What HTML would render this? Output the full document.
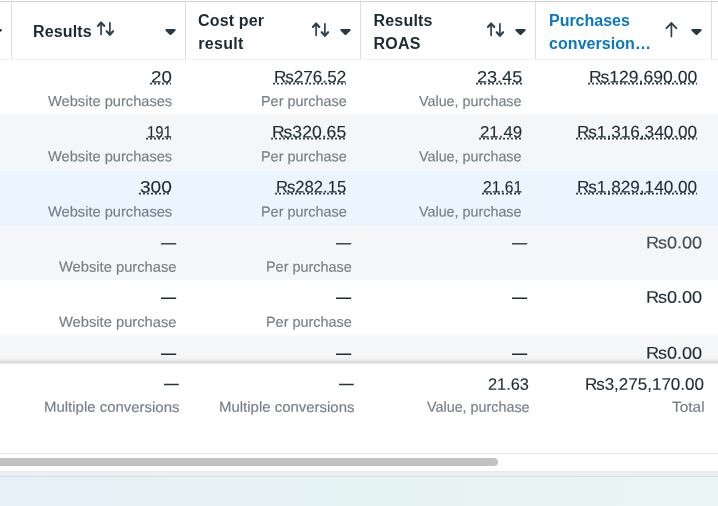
<!DOCTYPE html>
<html lang="en"><head><meta charset="utf-8"><title>Ads reporting table – results columns</title>
<style>
html,body{margin:0;padding:0}
body{width:718px;height:506px;overflow:hidden;background:#fff;position:relative;font-family:"Liberation Sans",sans-serif;color:#1c2b33}
.tbl,.hd,.tr,.tf,.th,.td,.b,.h,.s,.v,.ic,.sb,.pg{position:absolute}
.tbl{left:0;top:0;width:718px;height:471px}
.hd,.tr,.tf,.sb,.pg{left:0;width:718px}
.th,.td{top:0;height:100%}
.h,.s,.v{white-space:nowrap}
.h{font-size:16px;line-height:20px;font-weight:bold}
.lk{color:#0a78be}
.v{line-height:21px;transform-origin:0 0;-webkit-text-stroke:0.12px currentColor;text-rendering:geometricPrecision}
.s{font-size:14.4px;color:#757f86;-webkit-text-stroke:0.15px currentColor}
.d{font-size:16px;font-weight:bold;-webkit-text-stroke:0}
.cur::first-letter{letter-spacing:-1.1px}
.ic{overflow:visible;pointer-events:none}
</style></head><body>
<div class="tbl" role="table" aria-label="Campaign results">
<div class="hd" role="row" style="top:0;height:59px;background:#fff">
<div class="b" style="left:0px;top:1px;width:718px;height:1px;background:#d2d3d5;"></div>
<div class="th" role="columnheader" style="left:0;width:11px"><svg class="ic" style="left:0px;top:0px" width="718" height="506" viewBox="0 0 718 506" aria-hidden="true"><path d="M-7.4 30H0.8L-3.3 33.9Z" fill="#283943" stroke="#283943" stroke-width="2.2" stroke-linejoin="round"/></svg></div>
<div class="th" role="columnheader" style="left:11px;width:174px">
<div class="b" style="left:0px;top:2px;width:1px;height:57px;background:#dcdee1;"></div>
<div class="h" style="left:22.07px;top:21.7px;letter-spacing:0.143px">Results</div>
<svg class="ic" style="left:-11px;top:0px" width="718" height="506" viewBox="0 0 718 506" aria-hidden="true"><g fill="none" stroke="#2f404b" stroke-linecap="round" stroke-linejoin="round"><path d="M101.1 22.5V34.3" stroke-width="1.7"/><path d="M97.9 26L101.1 22.5L104.3 26" stroke-width="2.1"/><path d="M109.9 22.9V34.7" stroke-width="1.7"/><path d="M106.7 31.2L109.9 34.7L113.1 31.2" stroke-width="2.1"/></g><path d="M166.4 30H174.6L170.5 33.9Z" fill="#283943" stroke="#283943" stroke-width="2.2" stroke-linejoin="round"/></svg>
</div>
<div class="th" role="columnheader" style="left:185px;width:175px">
<div class="b" style="left:0px;top:2px;width:1px;height:57px;background:#dcdee1;"></div>
<div class="h" style="left:13.07px;top:11.3px;letter-spacing:0.137px">Cost per</div>
<div class="h" style="left:13.16px;top:34px;letter-spacing:0.320px">result</div>
<svg class="ic" style="left:-185px;top:0px" width="718" height="506" viewBox="0 0 718 506" aria-hidden="true"><g fill="none" stroke="#2f404b" stroke-linecap="round" stroke-linejoin="round"><path d="M316.1 23.5V35.3" stroke-width="1.7"/><path d="M312.9 27L316.1 23.5L319.3 27" stroke-width="2.1"/><path d="M324.9 23.9V35.7" stroke-width="1.7"/><path d="M321.7 32.2L324.9 35.7L328.1 32.2" stroke-width="2.1"/></g><path d="M341.4 30H349.6L345.5 33.9Z" fill="#283943" stroke="#283943" stroke-width="2.2" stroke-linejoin="round"/></svg>
</div>
<div class="th" role="columnheader" style="left:360px;width:175px">
<div class="b" style="left:0px;top:2px;width:1px;height:57px;background:#dcdee1;"></div>
<div class="h" style="left:13.41px;top:11.3px;letter-spacing:0.215px">Results</div>
<div class="h" style="left:13.43px;top:34px;letter-spacing:0.266px">ROAS</div>
<svg class="ic" style="left:-360px;top:0px" width="718" height="506" viewBox="0 0 718 506" aria-hidden="true"><g fill="none" stroke="#2f404b" stroke-linecap="round" stroke-linejoin="round"><path d="M491.1 23.5V35.3" stroke-width="1.7"/><path d="M487.9 27L491.1 23.5L494.3 27" stroke-width="2.1"/><path d="M499.9 23.9V35.7" stroke-width="1.7"/><path d="M496.7 32.2L499.9 35.7L503.1 32.2" stroke-width="2.1"/></g><path d="M516.4 30H524.6L520.5 33.9Z" fill="#283943" stroke="#283943" stroke-width="2.2" stroke-linejoin="round"/></svg>
</div>
<div class="th" role="columnheader" style="left:535px;width:176px">
<div class="b" style="left:0px;top:2px;width:1px;height:57px;background:#dcdee1;"></div>
<div class="h lk" style="left:13.99px;top:11.3px;letter-spacing:-0.015px">Purchases</div>
<div class="h lk" style="left:14.03px;top:34px;letter-spacing:0.058px">conversion…</div>
<svg class="ic" style="left:-535px;top:0px" width="718" height="506" viewBox="0 0 718 506" aria-hidden="true"><g fill="none" stroke="#2f404b" stroke-linecap="round" stroke-linejoin="round"><path d="M671.4 23.1V36.5" stroke-width="1.7"/><path d="M666.5 28.2L671.4 23.1L676.3 28.2" stroke-width="1.9"/></g><path d="M692.4 30H700.6L696.5 33.9Z" fill="#283943" stroke="#283943" stroke-width="2.2" stroke-linejoin="round"/></svg>
</div>
<div class="th" role="columnheader" style="left:711px;width:7px"><div class="b" style="left:0px;top:2px;width:1px;height:57px;background:#dcdee1;"></div></div>
</div>
<div class="tr" role="row" style="top:59px;height:55px;background:#ffffff">
<div class="b" style="left:0px;top:0px;width:718px;height:1px;background:#f3f3f4;"></div>
<div class="b" style="left:185px;top:1px;width:2px;height:54px;background:rgba(255,255,255,0.08);"></div>
<div class="b" style="left:360px;top:1px;width:2px;height:54px;background:rgba(255,255,255,0.08);"></div>
<div class="b" style="left:535px;top:1px;width:2px;height:54px;background:rgba(255,255,255,0.08);"></div>
<div class="td" role="cell" style="left:11px;width:174px">
<div class="v" style="left:139.8px;top:8px;font-size:16.5px;transform:translateY(0.40px) rotate(0.05deg) scaleX(1.1329)">20</div>
<svg class="ic" style="left:-11px;top:-59px" width="718" height="506" viewBox="0 0 718 506" aria-hidden="true"><path d="M150 83.55H171" fill="none" stroke="rgba(28,43,51,0.9)" stroke-width="1.8" stroke-dasharray="2 2"/></svg>
<div class="v s" style="left:36.5px;top:33px;transform:translateY(0.00px) rotate(0.05deg) scaleX(1.0170)">Website purchases</div>
</div>
<div class="td" role="cell" style="left:185px;width:175px">
<div class="v cur" style="left:88.8px;top:7px;font-size:16.7px;transform:translateY(0.40px) rotate(0.05deg) scaleX(1.0265)">Rs276.52</div>
<svg class="ic" style="left:-185px;top:-59px" width="718" height="506" viewBox="0 0 718 506" aria-hidden="true"><path d="M273 83.55H346" fill="none" stroke="rgba(28,43,51,0.9)" stroke-width="1.8" stroke-dasharray="2 2"/></svg>
<div class="v s" style="left:76px;top:33px;transform:translateY(0.00px) rotate(0.05deg) scaleX(1.0024)">Per purchase</div>
</div>
<div class="td" role="cell" style="left:360px;width:175px">
<div class="v" style="left:116.8px;top:8px;font-size:16.5px;transform:translateY(0.40px) rotate(0.05deg) scaleX(1.0945)">23.45</div>
<svg class="ic" style="left:-360px;top:-59px" width="718" height="506" viewBox="0 0 718 506" aria-hidden="true"><path d="M476 83.55H522" fill="none" stroke="rgba(28,43,51,0.9)" stroke-width="1.8" stroke-dasharray="2 2"/></svg>
<div class="v s" style="left:59.3px;top:33px;transform:translateY(0.00px) rotate(0.05deg) scaleX(0.9957)">Value, purchase</div>
</div>
<div class="td" role="cell" style="left:535px;width:176px">
<div class="v cur" style="left:53.8px;top:7px;font-size:16.7px;transform:translateY(0.40px) rotate(0.05deg) scaleX(1.0523)">Rs129,690.00</div>
<svg class="ic" style="left:-535px;top:-59px" width="718" height="506" viewBox="0 0 718 506" aria-hidden="true"><path d="M588 83.55H697" fill="none" stroke="rgba(28,43,51,0.9)" stroke-width="1.8" stroke-dasharray="2 2"/></svg>
</div>
</div>
<div class="tr" role="row" style="top:114px;height:55px;background:#f5f6f7">
<div class="b" style="left:0px;top:0px;width:718px;height:1px;background:#fafafa;"></div>
<div class="b" style="left:185px;top:0px;width:2px;height:55px;background:rgba(255,255,255,0.08);"></div>
<div class="b" style="left:360px;top:0px;width:2px;height:55px;background:rgba(255,255,255,0.08);"></div>
<div class="b" style="left:535px;top:0px;width:2px;height:55px;background:rgba(255,255,255,0.08);"></div>
<div class="td" role="cell" style="left:11px;width:174px">
<div class="v" style="left:135.8px;top:8px;font-size:16.5px;transform:translateY(0.40px) rotate(0.05deg) scaleX(0.9008)">191</div>
<svg class="ic" style="left:-11px;top:-114px" width="718" height="506" viewBox="0 0 718 506" aria-hidden="true"><path d="M146 138.55H171" fill="none" stroke="rgba(28,43,51,0.9)" stroke-width="1.8" stroke-dasharray="2 2"/></svg>
<div class="v s" style="left:36.5px;top:33px;transform:translateY(0.20px) rotate(0.05deg) scaleX(1.0170)">Website purchases</div>
</div>
<div class="td" role="cell" style="left:185px;width:175px">
<div class="v cur" style="left:86.8px;top:7px;font-size:16.7px;transform:translateY(0.40px) rotate(0.05deg) scaleX(1.0549)">Rs320.65</div>
<svg class="ic" style="left:-185px;top:-114px" width="718" height="506" viewBox="0 0 718 506" aria-hidden="true"><path d="M271 138.55H346" fill="none" stroke="rgba(28,43,51,0.9)" stroke-width="1.8" stroke-dasharray="2 2"/></svg>
<div class="v s" style="left:76px;top:33px;transform:translateY(0.20px) rotate(0.05deg) scaleX(1.0024)">Per purchase</div>
</div>
<div class="td" role="cell" style="left:360px;width:175px">
<div class="v" style="left:119.8px;top:8px;font-size:16.5px;transform:translateY(0.40px) rotate(0.05deg) scaleX(1.0219)">21.49</div>
<svg class="ic" style="left:-360px;top:-114px" width="718" height="506" viewBox="0 0 718 506" aria-hidden="true"><path d="M479 138.55H522" fill="none" stroke="rgba(28,43,51,0.9)" stroke-width="1.8" stroke-dasharray="2 2"/></svg>
<div class="v s" style="left:59.3px;top:33px;transform:translateY(0.20px) rotate(0.05deg) scaleX(0.9957)">Value, purchase</div>
</div>
<div class="td" role="cell" style="left:535px;width:176px">
<div class="v cur" style="left:41.8px;top:7px;font-size:16.7px;transform:translateY(0.40px) rotate(0.05deg) scaleX(1.0296)">Rs1,316,340.00</div>
<svg class="ic" style="left:-535px;top:-114px" width="718" height="506" viewBox="0 0 718 506" aria-hidden="true"><path d="M576 138.55H697" fill="none" stroke="rgba(28,43,51,0.9)" stroke-width="1.8" stroke-dasharray="2 2"/></svg>
</div>
</div>
<div class="tr sel" role="row" style="top:169px;height:56px;background:#ecf5ff">
<div class="b" style="left:0px;top:0px;width:718px;height:1px;background:#f8f9fa;"></div>
<div class="b" style="left:0px;top:1px;width:718px;height:1px;background:#eef6fe;"></div>
<div class="b" style="left:185px;top:0px;width:2px;height:56px;background:rgba(255,255,255,0.08);"></div>
<div class="b" style="left:360px;top:0px;width:2px;height:56px;background:rgba(255,255,255,0.08);"></div>
<div class="b" style="left:535px;top:0px;width:2px;height:56px;background:rgba(255,255,255,0.08);"></div>
<div class="td" role="cell" style="left:11px;width:174px">
<div class="v" style="left:128.8px;top:8px;font-size:16.5px;transform:translateY(0.40px) rotate(0.05deg) scaleX(1.1551)">300</div>
<svg class="ic" style="left:-11px;top:-169px" width="718" height="506" viewBox="0 0 718 506" aria-hidden="true"><path d="M139 193.55H171" fill="none" stroke="rgba(28,43,51,0.9)" stroke-width="1.8" stroke-dasharray="2 2"/></svg>
<div class="v s" style="left:36.5px;top:33px;transform:translateY(0.40px) rotate(0.05deg) scaleX(1.0170)">Website purchases</div>
</div>
<div class="td" role="cell" style="left:185px;width:175px">
<div class="v cur" style="left:90.8px;top:7px;font-size:16.7px;transform:translateY(0.40px) rotate(0.05deg) scaleX(0.9980)">Rs282.15</div>
<svg class="ic" style="left:-185px;top:-169px" width="718" height="506" viewBox="0 0 718 506" aria-hidden="true"><path d="M275 193.55H346" fill="none" stroke="rgba(28,43,51,0.9)" stroke-width="1.8" stroke-dasharray="2 2"/></svg>
<div class="v s" style="left:76px;top:33px;transform:translateY(0.40px) rotate(0.05deg) scaleX(1.0024)">Per purchase</div>
</div>
<div class="td" role="cell" style="left:360px;width:175px">
<div class="v" style="left:122.8px;top:8px;font-size:16.5px;transform:translateY(0.40px) rotate(0.05deg) scaleX(0.9492)">21.61</div>
<svg class="ic" style="left:-360px;top:-169px" width="718" height="506" viewBox="0 0 718 506" aria-hidden="true"><path d="M482 193.55H522" fill="none" stroke="rgba(28,43,51,0.9)" stroke-width="1.8" stroke-dasharray="2 2"/></svg>
<div class="v s" style="left:59.3px;top:33px;transform:translateY(0.40px) rotate(0.05deg) scaleX(0.9957)">Value, purchase</div>
</div>
<div class="td" role="cell" style="left:535px;width:176px">
<div class="v cur" style="left:41.8px;top:7px;font-size:16.7px;transform:translateY(0.40px) rotate(0.05deg) scaleX(1.0296)">Rs1,829,140.00</div>
<svg class="ic" style="left:-535px;top:-169px" width="718" height="506" viewBox="0 0 718 506" aria-hidden="true"><path d="M576 193.55H697" fill="none" stroke="rgba(28,43,51,0.9)" stroke-width="1.8" stroke-dasharray="2 2"/></svg>
</div>
</div>
<div class="tr" role="row" style="top:225px;height:55px;background:#f5f6f7">
<div class="b" style="left:0px;top:0px;width:718px;height:1px;background:#f1f6fb;"></div>
<div class="b" style="left:185px;top:0px;width:2px;height:55px;background:rgba(255,255,255,0.08);"></div>
<div class="b" style="left:360px;top:0px;width:2px;height:55px;background:rgba(255,255,255,0.08);"></div>
<div class="b" style="left:535px;top:0px;width:2px;height:55px;background:rgba(255,255,255,0.08);"></div>
<div class="td" role="cell" style="left:11px;width:174px">
<div class="v d" style="left:150px;top:8px;color:#3c4a54;transform:translateY(0.02px) rotate(0.05deg) scaleX(0.9500)">—</div>
<div class="v s" style="left:48.2px;top:32px;transform:translateY(0.60px) rotate(0.05deg) scaleX(1.0224)">Website purchase</div>
</div>
<div class="td" role="cell" style="left:185px;width:175px">
<div class="v d" style="left:151.4px;top:8px;color:#3c4a54;transform:translateY(0.02px) rotate(0.05deg) scaleX(0.9500)">—</div>
<div class="v s" style="left:80.9px;top:32px;transform:translateY(0.60px) rotate(0.05deg) scaleX(1.0024)">Per purchase</div>
</div>
<div class="td" role="cell" style="left:360px;width:175px">
<div class="v d" style="left:151.6px;top:8px;color:#3c4a54;transform:translateY(0.02px) rotate(0.05deg) scaleX(0.9500)">—</div>
</div>
<div class="td" role="cell" style="left:535px;width:176px">
<div class="v cur" style="left:110.9px;top:7px;font-size:16.7px;color:#3f4c55;transform:translateY(0.25px) rotate(0.05deg) scaleX(1.0855)">Rs0.00</div>
</div>
</div>
<div class="tr" role="row" style="top:280px;height:55px;background:#ffffff">
<div class="b" style="left:0px;top:0px;width:718px;height:1px;background:#fdfdfd;"></div>
<div class="b" style="left:185px;top:0px;width:2px;height:55px;background:rgba(255,255,255,0.08);"></div>
<div class="b" style="left:360px;top:0px;width:2px;height:55px;background:rgba(255,255,255,0.08);"></div>
<div class="b" style="left:535px;top:0px;width:2px;height:55px;background:rgba(255,255,255,0.08);"></div>
<div class="td" role="cell" style="left:11px;width:174px">
<div class="v d" style="left:150px;top:7px;color:#1c2b33;transform:translateY(0.42px) rotate(0.05deg) scaleX(0.9500)">—</div>
<div class="v s" style="left:48.2px;top:32px;transform:translateY(0.80px) rotate(0.05deg) scaleX(1.0224)">Website purchase</div>
</div>
<div class="td" role="cell" style="left:185px;width:175px">
<div class="v d" style="left:151.4px;top:7px;color:#1c2b33;transform:translateY(0.42px) rotate(0.05deg) scaleX(0.9500)">—</div>
<div class="v s" style="left:80.9px;top:32px;transform:translateY(0.80px) rotate(0.05deg) scaleX(1.0024)">Per purchase</div>
</div>
<div class="td" role="cell" style="left:360px;width:175px">
<div class="v d" style="left:151.6px;top:7px;color:#1c2b33;transform:translateY(0.42px) rotate(0.05deg) scaleX(0.9500)">—</div>
</div>
<div class="td" role="cell" style="left:535px;width:176px">
<div class="v cur" style="left:110.9px;top:6px;font-size:16.7px;color:#1f2e36;transform:translateY(0.75px) rotate(0.05deg) scaleX(1.0855)">Rs0.00</div>
</div>
</div>
<div class="tr" role="row" style="top:335px;height:29px;background:#f5f6f7">
<div class="b" style="left:0px;top:0px;width:718px;height:1px;background:#fafafb;"></div>
<div class="b" style="left:185px;top:0px;width:2px;height:22px;background:rgba(255,255,255,0.08);"></div>
<div class="b" style="left:360px;top:0px;width:2px;height:22px;background:rgba(255,255,255,0.08);"></div>
<div class="b" style="left:535px;top:0px;width:2px;height:22px;background:rgba(255,255,255,0.08);"></div>
<div class="b" style="left:0px;top:22px;width:718px;height:1px;background:#f4f5f5;"></div>
<div class="b" style="left:0px;top:23px;width:718px;height:1px;background:#f1f2f2;"></div>
<div class="b" style="left:0px;top:24px;width:718px;height:1px;background:#ededee;"></div>
<div class="b" style="left:0px;top:25px;width:718px;height:1px;background:#e8e8e9;"></div>
<div class="b" style="left:0px;top:26px;width:718px;height:1px;background:#e2e2e2;"></div>
<div class="b" style="left:0px;top:27px;width:718px;height:1px;background:#dbdbdb;"></div>
<div class="b" style="left:0px;top:28px;width:718px;height:1px;background:#ebebeb;"></div>
<div class="td" role="cell" style="left:11px;width:174px">
<div class="v d" style="left:150px;top:8px;color:#1c2b33;transform:translateY(0.42px) rotate(0.05deg) scaleX(0.9500)">—</div>
</div>
<div class="td" role="cell" style="left:185px;width:175px">
<div class="v d" style="left:151.4px;top:8px;color:#1c2b33;transform:translateY(0.42px) rotate(0.05deg) scaleX(0.9500)">—</div>
</div>
<div class="td" role="cell" style="left:360px;width:175px">
<div class="v d" style="left:151.6px;top:8px;color:#1c2b33;transform:translateY(0.42px) rotate(0.05deg) scaleX(0.9500)">—</div>
</div>
<div class="td" role="cell" style="left:535px;width:176px">
<div class="v cur" style="left:110.9px;top:7px;font-size:16.7px;color:#1f2e36;transform:translateY(0.60px) rotate(0.05deg) scaleX(1.0855)">Rs0.00</div>
</div>
</div>
<div class="tf" role="row" style="top:364px;height:89px;background:#fff">
<div class="td" role="cell" style="left:11px;width:174px">
<div class="v d" style="left:153px;top:9px;color:#27363f;transform:translateY(0.72px) rotate(0.05deg) scaleX(0.9219)">—</div>
<div class="v s" style="left:32.5px;top:33px;transform:translateY(0.80px) rotate(0.05deg) scaleX(1.0393)">Multiple conversions</div>
</div>
<div class="td" role="cell" style="left:185px;width:175px">
<div class="v d" style="left:154px;top:9px;color:#27363f;transform:translateY(0.72px) rotate(0.05deg) scaleX(0.9219)">—</div>
<div class="v s" style="left:33.5px;top:33px;transform:translateY(0.80px) rotate(0.05deg) scaleX(1.0393)">Multiple conversions</div>
</div>
<div class="td" role="cell" style="left:360px;width:175px">
<div class="v" style="left:128px;top:10px;font-size:16.5px;transform:translateY(0.70px) rotate(0.05deg) scaleX(0.9928)">21.63</div>
<div class="v s" style="left:66.9px;top:33px;transform:translateY(0.80px) rotate(0.05deg) scaleX(0.9967)">Value, purchase</div>
</div>
<div class="td" role="cell" style="left:535px;width:176px">
<div class="v cur" style="left:50px;top:9px;font-size:16.7px;transform:translateY(0.70px) rotate(0.05deg) scaleX(1.0193)">Rs3,275,170.00</div>
<div class="v s" style="left:137.1px;top:33px;transform:translateY(0.80px) rotate(0.05deg) scaleX(1.0721)">Total</div>
</div>
</div>
<div class="sb" role="scrollbar" aria-orientation="horizontal" aria-valuenow="0" style="top:453px;height:18px;background:#fff">
<div class="b" style="left:0px;top:0px;width:718px;height:1px;background:#e9e9e9;"></div>
<div class="b" style="left:11px;top:0px;width:1px;height:1px;background:#d4d6d8;"></div>
<div class="b" style="left:-10px;top:5px;width:508px;height:8px;background:#c1c1c1;border-radius:4px;"></div>
</div>
</div>
<div class="pg" style="top:471px;height:35px">
<div class="b" style="left:0px;top:0px;width:718px;height:1px;background:#e8eaed;"></div>
<div class="b" style="left:0px;top:1px;width:718px;height:1px;background:#ecedf0;"></div>
<div class="b" style="left:0px;top:2px;width:718px;height:1px;background:#edeff1;"></div>
<div class="b" style="left:0px;top:3px;width:718px;height:1px;background:#edeff1;"></div>
<div class="b" style="left:0px;top:4px;width:718px;height:1px;background:#eaecee;"></div>
<div class="b" style="left:0px;top:5px;width:718px;height:1px;background:#dddfe2;"></div>
<div class="b" style="left:0px;top:6px;width:718px;height:29px;background:linear-gradient(to right,#e6f0f8 0,#e6f3f3 50%,#e8f5f2 100%);"></div>
</div>
</body></html>
